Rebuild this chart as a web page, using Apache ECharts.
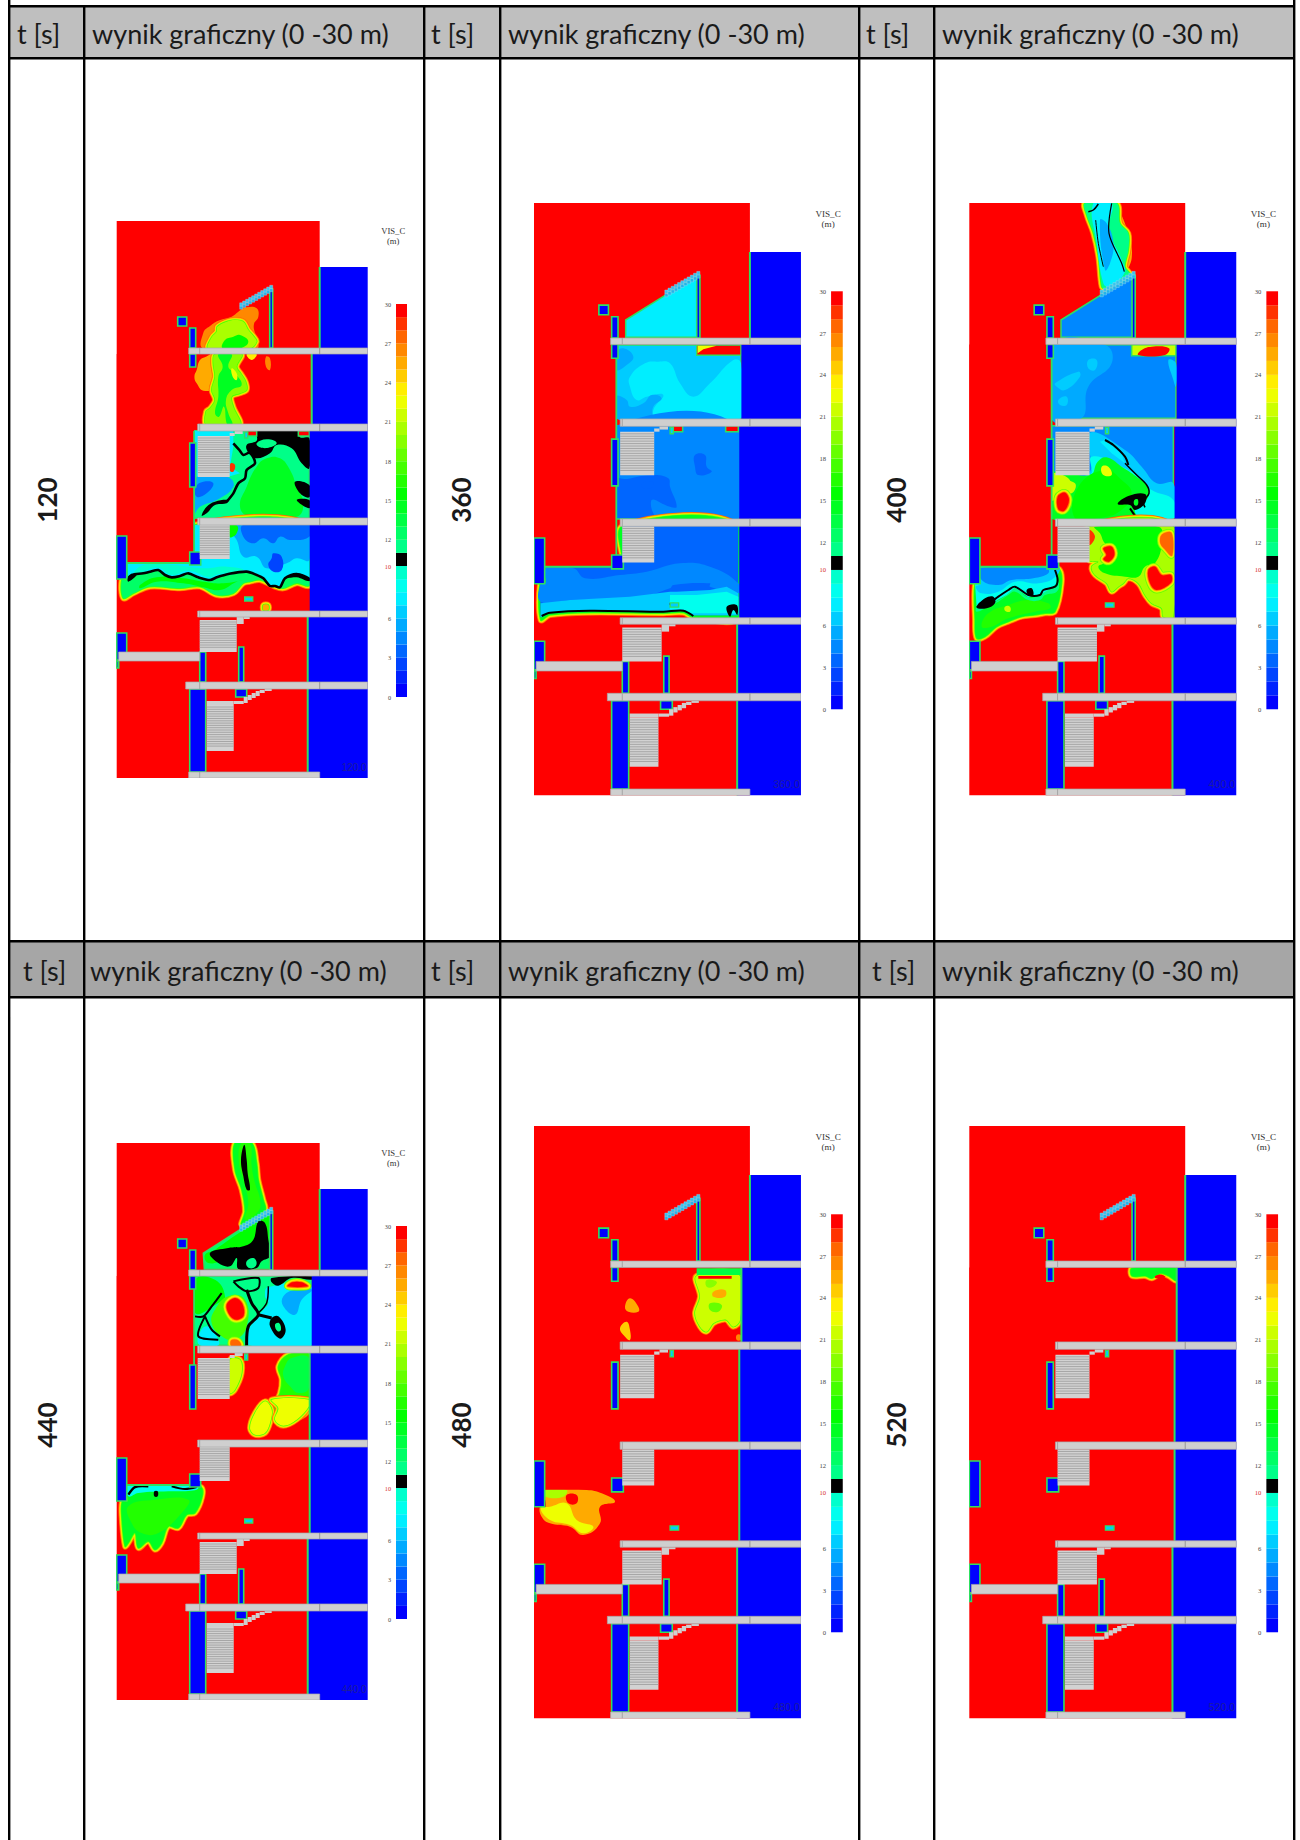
<!DOCTYPE html>
<html><head><meta charset="utf-8">
<style>html,body{margin:0;padding:0;background:#fff}#c{width:1300px;height:1840px}</style>
<script src="https://cdn.jsdelivr.net/npm/echarts@6/dist/echarts.min.js"></script>
</head><body><div id="c"></div>
<script>
// ---------- values ----------
const TIMES = [120, 360, 400, 440, 480, 520];
const STAMPS = ['120.0', '360.0', '400.0', '440.0', '480.0', '520.0'];
const HEAD_T = 't [s]';
const HEAD_W = 'wynik graficzny (0 -30 m)';
const BAR_TITLE = ['VIS_C', '(m)'];
const BAR_TICKS = [0, 3, 6, 10, 12, 15, 18, 21, 24, 27, 30];
const BAND_COLORS = ['#0000ff','#0022ff','#0044ff','#0066ff','#0088ff','#00aaff','#00ccff','#00eeff','#00ffee','#00ffcc',
 '#000000','#00ff88','#00ff66','#00ff44','#00ff22','#00ff00','#22ff00','#44ff00','#66ff00','#88ff00',
 '#aaff00','#ccff00','#eeff00','#ffee00','#ffcc00','#ffaa00','#ff8800','#ff6600','#ff3300','#ff0000'];

// building geometry in one shared model space (251 x 557)
const MODEL_W = 251, MODEL_H = 557;
const BUILDING = [0,0,203,0,203,557,0,557];
const OUTER_BLUE = [203,46,251,46,251,557,191,557,191,396,193,396,193,210,195,210,195,133,203,133];
const LEFT_SOLID = [0,133,77.4,133,77.4,331,73,331,73,342,10,342,10,315,0,315];
const WALLS = [[203,46,127],[195,133,203],[193,210,297],[193,304,390],[191,396,461],[191,468,557]];
const SLABS = [[72,127,251,133],[81,203,251,210],[81,297,251,304],[81,390,251,396],[69,461,251,468],[2,431,83,440],[72,551,203,557]];
const STAIRS = [[81,215,113,256],[83,304,113,338],[83,399,120,431],[90,484,117,530]];
const STEPS = [[113,212,118,215],[118,210,126,213],[120,396,127,403],[127,396,133,398],[90,480,117,484],[117,480,127,483],[127,476,131,482],[131,474,135,479],[135,472,139,477],[139,470,143,475],[143,469,148,472],[148,468,155,470]];
const BLOCKS = [[61,96,70,105],[73,107,79,127],[73,133,79,146],[73,222,79,266],[0,315,10,358],[73,331,84,344],[0,412,10,439],[0,440,2,447],[83,431,89,461],[122,426,127,461],[119,468,130,476],[73,468,89,551],[153,68,156,127]];
const SMALL_BOXES = [[128,376,136,380],[128,211,131,217]];

// measured smoke contours per time step: [kind, band, crop, [x,y, ...]]
const CROPS_120 = {A:[-16.7,-21], B:[-16.7,279]};
const SMOKE_120 = [
 ['F',26,'A',[310,398,330,378,355,362,395,350,415,335,440,322,470,325,475,350,462,372,465,400,473,420,470,445,310,445]],
 ['R',20,'A',[325,445,335,412,350,395,352,380,380,365,405,360,430,365,445,390,462,410,470,425,450,445]],
 ['F',15,'A',[368,445,375,420,400,410,420,405,445,425,420,445]],
 ['F',25,'A',[283,530,290,510,300,480,318,470,340,463,345,560,310,572,290,550]],
 ['F',26,'A',[498,470,510,475,510,510,498,500]],
 ['F',23,'A',[440,463,470,463,455,480]],
 ['R',19,'A',[345,463,425,463,410,500,422,520,437,545,440,570,420,580,395,590,400,620,420,675,320,675,318,635,330,625,345,600,335,570,345,530,340,490]],
 ['F',14,'A',[355,463,395,463,385,500,405,520,425,555,395,570,378,600,385,640,398,675,382,675,372,620,357,650,345,640,355,590,355,530,368,500]],
 ['F',22,'A',[395,505,410,520,410,540,398,530]],
 ['S',11,'A',[283,692,628,692,628,955,283,955]],
 ['P',7,'A',[283,692,400,692,400,740,390,800,420,820,385,830,330,815,283,860]],
 ['F',28,'A',[392,790,405,795,400,815,390,812]],
 ['F',5,'A',[283,850,300,826,385,832,400,860,350,900,300,920,283,940]],
 ['F',3,'A',[288,860,310,845,340,850,320,880,290,890]],
 ['F',14,'A',[440,860,470,800,500,775,540,775,570,810,590,860,610,910,590,950,450,950,420,920]],
 ['K',10,'A',[472,692,595,692,600,712,628,715,628,805,605,790,575,745,530,735,510,760,470,775,445,758,440,735,470,722]],
 ['F',11,'A',[470,730,500,718,530,728,510,742,480,742]],
 ['K',10,'A',[585,845,628,855,628,892,600,880]],
 ['L',2.6,'A',[400,730,418,750,430,765,450,758,465,790,440,810,435,835,415,850,400,880,380,905]],
 ['S',29,'A',[440,692,470,692,470,708,440,708]],
 ['S',29,'A',[595,692,628,692,628,708,595,708]],
 ['K',10,'B',[305,47,320,20,345,5,385,0,380,10,345,15,320,40]],
 ['K',10,'B',[590,0,628,25,628,0]],
 ['R',12,'B',[282,75,628,75,628,255,590,250,550,265,520,258,480,240,450,245,430,250,400,280,350,285,300,260,240,265,150,260,100,280,70,295,65,240,80,240,82,188,268,188,268,195,302,195,302,155,282,155]],
 ['F',15,'B',[120,265,170,245,250,250,310,262,360,270,410,245,430,240,370,250,310,245,250,235,170,232,120,255]],
 ['P',7,'B',[82,190,268,190,268,195,302,195,302,160,282,155,282,75,628,75,628,238,590,222,555,235,540,262,510,258,490,235,440,215,350,232,330,240,265,220,215,232,175,210,130,220,95,225,85,240]],
 ['F',9,'B',[100,222,130,215,175,203,215,225,265,212,330,232,350,224,430,210,380,200,310,205,220,195,130,195]],
 ['F',5,'B',[385,75,628,75,628,180,590,175,560,190,500,205,470,170,430,170,410,120,395,100]],
 ['F',3,'B',[430,75,628,75,628,110,570,120,540,110,520,130,490,115,460,130,430,110]],
 ['F',2,'B',[520,160,545,170,545,210,520,215,505,195,515,175]],
 ['L',2.6,'B',[85,240,95,225,130,220,150,215,175,210,195,225,215,232,240,228,265,220,295,232,330,240,350,232,385,222,440,215,470,225,490,235,510,258,525,258,540,262,555,235,590,222,628,240]],
 ['K',10,'B',[85,245,85,228,100,225,110,226]],
 ['K',10,'B',[555,235,590,220,628,232,628,244,590,232]],
 ['F',15,'B',[388,78,412,78,410,100,395,112,388,110]],
 ['R',25,'B',[490,315,505,315,505,330,490,330]]
];

const CROPS_360 = {C:[-4,117], D:[-4.3,-3]};
const SMOKE_360 = [
 ['S',7,'D',[288,412,288,360,400,290,505,225,505,412]],
 ['S',6,'C',[258,75,633,75,633,295,258,295]],
 ['F',7,'C',[300,170,345,130,385,125,420,130,450,190,490,230,540,190,610,120,633,130,633,295,380,295,370,270,400,225,350,230,320,240,300,200]],
 ['F',5,'C',[258,230,290,240,300,260,340,250,365,225,395,235,370,260,360,295,258,295]],
 ['F',5,'C',[258,100,280,85,310,110,290,135,258,150]],
 ['S',29,'C',[500,75,633,75,633,106,500,106]],
 ['P',22,'C',[503,100,520,88,560,77,503,77]],
 ['S',3,'C',[258,317,625,317,625,597,258,597]],
 ['F',4,'C',[258,317,625,317,625,597,390,597,365,540,420,560,440,560,420,500,415,475,370,465,258,465]],
 ['F',3,'C',[495,405,525,405,530,440,545,455,505,465,495,440]],
 ['F',3,'C',[335,490,365,485,370,500,340,505]],
 ['S',29,'C',[425,317,458,317,458,335,425,335]],
 ['S',29,'C',[587,317,625,317,625,335,587,335]],
 ['R',14,'C',[278,618,625,618,625,892,490,892,460,878,400,880,180,878,60,885,32,900,30,790,47,790,47,740,245,740,245,745,278,745]],
 ['P',3,'C',[278,618,625,618,625,886,490,886,460,872,400,875,180,872,60,878,32,892,30,790,47,790,47,740,245,740,245,745,278,745]],
 ['F',4,'C',[47,745,130,745,165,775,270,765,350,755,450,730,540,740,625,790,625,820,540,800,540,790,430,795,420,805,330,830,120,840,32,845,32,790,47,790]],
 ['P',6,'C',[32,850,120,840,300,830,420,815,440,815,540,810,590,800,625,820,625,886,490,886,460,872,400,875,180,872,60,878,32,892]],
 ['P',8,'C',[420,825,500,825,590,815,625,830,625,882,590,880,480,880,460,868,420,868]],
 ['F',1,'C',[418,850,442,850,440,856,420,856]],
 ['L',2,'C',[35,888,60,878,180,872,400,875,460,872,490,888]],
 ['K',10,'C',[590,860,620,855,622,885,610,870,600,890]]
];

const CROPS_400 = {D:[-4.3,-3], E:[-4.3,277]};
const SMOKE_400 = [
 ['F',25,'D',[455,20,490,100,500,175,480,210,470,100]],
 ['R',11,'D',[360,10,455,10,465,70,490,100,490,150,480,200,495,225,420,265,410,260,400,170,385,100,365,45]],
 ['F',7,'D',[385,10,440,10,432,90,470,180,478,220,430,260,415,250,395,130]],
 ['F',5,'D',[405,60,425,70,445,130,435,190,420,210]],
 ['L',1.5,'D',[370,35,385,30,400,12]],
 ['L',1.2,'D',[440,10,432,100,470,190,478,215]],
 ['L',1,'D',[392,60,400,130,415,200]],
 ['S',4,'D',[288,412,288,360,400,290,505,225,505,412]],
 ['S',4,'D',[258,434,633,434,633,655,258,655]],
 ['F',5,'D',[265,434,420,434,440,490,370,560,350,655,258,655]],
 ['F',6,'D',[270,550,340,515,345,530,300,570,275,560]],
 ['F',6,'D',[280,600,305,590,305,615,285,615]],
 ['F',6,'D',[370,480,395,480,390,510,370,505]],
 ['F',6,'D',[610,480,633,490,633,560,625,540]],
 ['S',21,'D',[500,434,633,434,633,467,500,467]],
 ['F',29,'D',[520,465,600,465,612,445,560,440,530,450]],
 ['S',4,'D',[258,677,625,677,625,955,258,955]],
 ['F',6,'D',[372,700,480,750,530,800,575,850,625,850,625,955,258,955,258,830,372,820]],
 ['F',8,'D',[380,770,470,800,520,830,560,870,625,900,625,955,258,955,258,830,375,825]],
 ['P',7,'D',[420,720,470,762,480,790,440,760,405,725]],
 ['F',14,'D',[258,822,375,825,398,785,425,772,470,800,515,830,545,855,552,880,540,905,510,930,515,955,258,955]],
 ['F',15,'D',[340,860,420,810,470,840,500,880,470,930,400,955,330,955]],
 ['F',21,'D',[258,825,300,828,320,860,290,885,258,900]],
 ['F',21,'E',[258,0,280,0,330,10,320,40,280,30,258,60]],
 ['H',29,'E',[278,50,300,38,312,60,298,92,280,88]],
 ['F',22,'D',[410,800,430,800,440,825,415,825]],
 ['L',2,'D',[420,720,445,735,480,770,490,795]],
 ['L',1.5,'D',[480,790,515,825,545,855,552,880,535,905,540,922]],
 ['K',10,'E',[458,72,490,48,540,42,540,70,510,90,495,75]],
 ['F',14,'E',[508,60,518,58,518,75,508,75]],
 ['L',2,'E',[495,85,515,115]],
 ['R',20,'E',[372,140,625,140,625,410,595,410,590,385,560,370,540,345,520,310,490,295,475,310,460,320,440,335,425,310,390,285,380,260,400,245,372,240]],
 ['F',15,'E',[390,140,580,140,590,190,570,250,540,260,520,290,480,290,420,280,400,260,420,250,440,240,450,210,420,190,405,160]],
 ['H',29,'E',[415,205,440,200,448,225,432,245,415,238,424,225]],
 ['H',29,'E',[550,270,570,260,590,285,618,285,618,308,575,330,555,310]],
 ['H',27,'E',[592,165,618,160,620,225,602,208,588,190]],
 ['F',28,'E',[372,150,390,170,372,195]],
 ['R',14,'E',[47,262,245,262,245,267,282,267,290,310,270,395,240,400,210,405,170,410,130,425,95,440,60,470,35,475,30,420,30,312,47,312]],
 ['F',16,'E',[50,440,70,400,130,375,190,360,250,370,255,385,210,395,130,415,80,440]],
 ['F',21,'E',[120,380,135,380,135,395,120,392]],
 ['F',11,'E',[35,395,70,380,100,365,130,345,150,335,190,360,225,360,240,345,275,335,282,310,272,290,230,340,190,352,150,322,125,345,80,370,35,382]],
 ['P',8,'E',[47,262,280,262,272,315,230,342,190,352,150,322,125,345,80,370,35,382,30,312,47,312]],
 ['F',6,'E',[47,262,280,262,272,290,220,310,150,305,100,335,50,340,32,320,47,312]],
 ['F',4,'E',[47,264,245,264,250,280,205,295,140,300,100,315,50,300]],
 ['L',2,'E',[35,382,70,370,100,350,130,330,150,320,190,345,225,345,235,330,270,320,278,300,270,270]],
 ['K',10,'E',[35,382,60,355,85,350,90,370,65,385]],
 ['K',10,'E',[185,330,200,325,205,345,190,345]]
];

const CROPS_440 = {F:[-1.7,-3.3], G:[-1.7,256.7]};
const SMOKE_440 = [
 ['R',14,'F',[360,10,410,10,425,70,430,120,445,180,450,212,380,255,390,215,380,150,360,90]],
 ['F',16,'F',[378,12,405,12,410,80,420,130,435,180,430,215,390,240,400,190,385,120,372,70]],
 ['K',10,'F',[378,60,388,15,395,60,398,100,405,150,395,150,385,110]],
 ['S',12,'F',[268,388,265,340,375,270,468,215,470,388]],
 ['F',15,'F',[280,370,330,360,400,340,440,340,470,280,465,230,380,275,300,330,270,345]],
 ['K',10,'F',[285,340,340,325,385,320,415,300,430,245,450,250,460,300,465,350,440,365,425,385,370,388,365,355,345,380,310,370]],
 ['F',11,'F',[395,365,415,355,425,370,415,385,398,382]],
 ['S',11,'F',[238,410,590,410,590,617,238,617]],
 ['F',7,'F',[460,442,590,442,590,617,400,617,395,585,420,540,445,510,460,490,450,470]],
 ['F',5,'F',[505,470,540,450,590,450,560,480,540,525,505,500]],
 ['F',15,'F',[240,420,300,420,330,470,310,490,240,520]],
 ['F',17,'F',[300,510,340,470,390,480,395,560,360,600,320,590,290,550]],
 ['H',29,'F',[335,495,360,475,382,492,386,528,365,540,345,528]],
 ['H',27,'F',[350,603,368,603,376,617,350,617]],
 ['F',7,'F',[250,590,275,560,305,590,310,617,255,617]],
 ['L',2,'F',[355,425,430,415,430,445,395,455,370,440,355,425]],
 ['L',3,'F',[395,450,410,490,430,525,400,560,395,617]],
 ['L',2,'F',[240,530,265,530,290,500,320,460]],
 ['L',2,'F',[270,530,250,590,310,600]],
 ['L',2,'F',[270,530,290,570,315,590]],
 ['L',1.5,'F',[460,440,455,490,430,520]],
 ['L',3,'F',[430,525,470,535]],
 ['K',10,'F',[470,535,490,530,512,570,495,597,465,560]],
 ['F',11,'F',[480,555,492,550,498,570,488,575]],
 ['K',10,'F',[470,415,590,410,590,420,530,415,490,438,470,428]],
 ['H',29,'F',[518,440,578,440,560,428,532,428]],
 ['R',21,'F',[345,660,375,660,380,700,360,750,345,760]],
 ['R',16,'F',[490,680,520,645,582,645,582,800,560,830,500,840,475,810,495,760,500,720]],
 ['F',13,'F',[510,680,530,655,582,655,582,745,550,760,525,740,505,710]],
 ['R',22,'G',[405,85,420,40,450,5,470,30,465,70,450,100,420,105]],
 ['R',22,'G',[470,0,582,0,582,20,545,60,505,78,480,60,490,25]],
 ['R',14,'G',[38,255,222,255,222,262,258,262,262,290,240,340,215,345,190,385,160,380,140,430,120,450,100,425,70,445,60,400,40,430,30,440,20,350,22,305,38,305]],
 ['F',16,'G',[40,320,120,300,220,300,200,340,130,400,80,400,50,370]],
 ['F',8,'G',[38,255,130,255,250,262,240,272,160,275,70,280,40,290]],
 ['L',2.5,'G',[40,285,60,262,100,260]],
 ['L',2,'G',[170,260,210,268,245,262]],
 ['K',10,'G',[118,275,128,275,128,290,118,290]]
];

const CROPS_480 = {H:[-4,114]};
const SMOKE_480 = [
 ['R',21,'H',[500,108,630,108,630,240,610,260,590,240,575,240,550,250,530,275,510,260,495,220,510,170]],
 ['P',13,'H',[500,85,633,85,633,105,500,105]],
 ['F',18,'H',[540,190,575,195,565,215,540,210]],
 ['F',19,'H',[530,120,560,125,550,140,530,140]],
 ['F',25,'H',[550,155,585,150,585,170,550,170]],
 ['P',29,'H',[505,108,605,108,605,116,505,116]],
 ['F',26,'H',[620,285,632,285,632,300,620,300]],
 ['F',25,'H',[285,200,300,175,325,200,325,215,295,215]],
 ['F',24,'H',[270,265,290,245,300,270,300,300,285,290]],
 ['F',25,'H',[30,800,47,800,47,748,170,750,215,760,255,785,210,800,210,850,160,885,120,860,60,850,35,830]],
 ['F',22,'H',[32,805,60,800,110,790,140,840,190,860,160,880,120,855,60,840]],
 ['F',20,'H',[47,750,110,750,100,770,47,770]],
 ['F',29,'H',[110,765,140,765,140,790,115,790]]
];

const CROPS_520 = {H:[-4,114]};
const SMOKE_520 = [
 ['R',14,'H',[500,85,633,85,633,122,610,108,585,100,560,115,540,108,500,108]],
 ['F',29,'H',[570,108,590,104,600,112,570,114]]
];

// layout of the scanned page
const PAGE_LINES = [9, 84, 424, 500, 859, 934, 1294];
const PANEL_POS = [[116.7,221,1],[534,203,1.0636],[969.3,203,1.0636],[116.7,1143,1],[534,1126,1.0636],[969.3,1126,1.0636]];
const SMOKE = [SMOKE_120,SMOKE_360,SMOKE_400,SMOKE_440,SMOKE_480,SMOKE_520];
const CROPS = [CROPS_120,CROPS_360,CROPS_400,CROPS_440,CROPS_480,CROPS_520];
const BARE_WALLS = [[0,1,4,5],[0,4,5],[0,4,5],[0,2,3,4,5],[0,1,2,3,4,5],[0,1,2,3,4,5]];
const ROOM_EDGES = [
 [[77.4,210,77.4,331],[10,342,73,342]],
 [[77.4,133,77.4,331],[10,342,73,342]],
 [[77.4,133,77.4,331],[10,342,73,342]],
 [[77.4,133,77.4,222],[10,342,73,342]],
 [],[]
];

// ---------- drawing ----------
const col = b => BAND_COLORS[Math.max(0, Math.min(29, b))];
const RIM = '#2fe060';
const RIM_STEPS = [[27,6],[25,4.8],[23,3.6],[20,2.4],[17,1.2]];
const HOT_STEPS = [[18,7],[21,5.4],[23,3.8],[25,2.4],[27,1.2]];
function pairs(a){ const o=[]; for(let i=0;i<a.length;i+=2)o.push([a[i],a[i+1]]); return o; }
function rectPts(r){ return [[r[0],r[1]],[r[2],r[1]],[r[2],r[3]],[r[0],r[3]]]; }

function panelLayers(p){
  const S = PANEL_POS[p][2], L = [];
  L.push({t:'poly',pts:pairs(BUILDING),fill:col(29)});
  SMOKE[p].forEach(function(s){
    const c = CROPS[p][s[2]];
    const pts = pairs(s[3]).map(q=>[(q[0]/3+c[0])/S,(q[1]/3+c[1])/S]);
    const k=s[0], b=s[1];
    if(k==='L'){ L.push({t:'line',pts,w:b,color:'#000'}); return; }
    if(k==='K'){ L.push({t:'poly',pts,fill:'#000',smooth:.4}); return; }
    if(k==='R'||k==='H'){
      (k==='R'?RIM_STEPS:HOT_STEPS).forEach(r=>L.push({t:'poly',pts,fill:col(r[0]),stroke:col(r[0]),w:r[1],smooth:.35}));
      L.push({t:'poly',pts,fill:col(b),smooth:.35});
      return;
    }
    if(k==='S'){ L.push({t:'poly',pts,fill:col(b),stroke:RIM,w:1.5}); return; }
    if(k==='P'){ L.push({t:'poly',pts,fill:col(b)}); return; }
    L.push({t:'poly',pts,fill:col(b),smooth:.45});
  });
  L.push({t:'poly',pts:pairs(LEFT_SOLID),fill:col(29)});
  ROOM_EDGES[p].forEach(function(e){
    L.push({t:'line',pts:[[e[0],e[1]],[e[2],e[3]]],w:1.8,color:RIM});
  });
  L.push({t:'poly',pts:pairs(OUTER_BLUE),fill:col(0)});
  BARE_WALLS[p].forEach(function(i){
    const w=WALLS[i];
    L.push({t:'line',pts:[[w[0],w[1]],[w[0],w[2]]],w:2,color:RIM});
  });
  BLOCKS.forEach(r=>L.push({t:'poly',pts:rectPts(r),fill:col(0),stroke:RIM,w:1.6}));
  SMALL_BOXES.forEach(r=>L.push({t:'poly',pts:rectPts(r),fill:col(6),stroke:RIM,w:1.4}));
  // window lattice
  for(let k=0;k<11;k++){
    const u=123+3*k, v=85-1.75*k;
    L.push({t:'poly',pts:rectPts([u,v,u+3,v+3.2]),fill:'#22b4ea',stroke:'#9fdcf0',w:.4});
    L.push({t:'poly',pts:rectPts([u,v-3.2,u+3,v]),fill:'#37c3ee',stroke:'#9fdcf0',w:.4});
  }
  STEPS.forEach(r=>L.push({t:'poly',pts:rectPts(r),fill:'#cfcfcf'}));
  STAIRS.forEach(function(r){
    L.push({t:'poly',pts:rectPts(r),fill:'#d2d2d2'});
    for(let y=r[1]+2;y<r[3]-4;y+=2.3) L.push({t:'line',pts:[[r[0],y],[r[2],y]],w:.8,color:'#9a9a9a'});
  });
  SLABS.forEach(function(r){
    L.push({t:'poly',pts:rectPts(r),fill:'#cfcfcf',stroke:'#a9a9a9',w:.7});
    if(r[2]>203) L.push({t:'line',pts:[[203,r[1]],[203,r[3]]],w:.9,color:'#8f8f8f'});
    if(r[0]<83 && r[2]>83) L.push({t:'line',pts:[[83,r[1]],[83,r[3]]],w:.9,color:'#a0a0a0'});
  });
  L.push({t:'text',at:[250,546],s:STAMPS[p],size:10*S});
  return L;
}

function render(layers){
  return function(params, api){
    const d = layers[params.dataIndex];
    if(d.t==='text'){
      const c = api.coord(d.at);
      return {type:'text',style:{text:d.s,x:c[0],y:c[1],align:'right',verticalAlign:'middle',fill:'#1c1ca0',font:d.size+'px "Liberation Sans"'}};
    }
    const pts = d.pts.map(q=>api.coord(q));
    if(d.t==='line'){
      return {type:'polyline',shape:{points:pts,smooth:pts.length>2?.3:0},style:{stroke:d.color,lineWidth:d.w,fill:null}};
    }
    return {type:'polygon',shape:{points:pts,smooth:d.smooth||0},style:{fill:d.fill,stroke:d.stroke||null,lineWidth:d.w||0}};
  };
}

const grids=[],xAxes=[],yAxes=[],series=[],graphic=[];
TIMES.forEach(function(_,p){
  const P=PANEL_POS[p], X=P[0], Y=P[1], S=P[2];
  const g=grids.length;
  grids.push({left:X,top:Y,width:MODEL_W*S,height:MODEL_H*S,containLabel:false});
  xAxes.push({gridIndex:g,type:'value',min:0,max:MODEL_W,show:false});
  yAxes.push({gridIndex:g,type:'value',min:0,max:MODEL_H,inverse:true,show:false});
  const layers=panelLayers(p);
  series.push({type:'custom',coordinateSystem:'cartesian2d',xAxisIndex:g,yAxisIndex:g,clip:true,silent:true,animation:false,
    data:layers.map((_,i)=>[i]),encode:{x:0,y:0},renderItem:render(layers)});
  // colour bar
  const h=grids.length;
  grids.push({left:X+279.3*S,top:Y+83*S,width:11*S,height:393*S,containLabel:false});
  xAxes.push({gridIndex:h,type:'value',min:0,max:1,show:false});
  yAxes.push({gridIndex:h,type:'value',min:0,max:30,
    axisLine:{show:false},axisTick:{show:false},splitLine:{show:false},
    axisLabel:{customValues:BAR_TICKS,margin:5,fontSize:6.2*S,fontFamily:'Liberation Serif',
      color:function(v){return +v===10?'#d62a2a':'#444';}}});
  series.push({type:'custom',coordinateSystem:'cartesian2d',xAxisIndex:h,yAxisIndex:h,silent:true,animation:false,
    data:BAND_COLORS.map((c,i)=>[i]),encode:{x:0,y:0},
    renderItem:function(params,api){
      const i=params.dataIndex, a=api.coord([0,i+1]), b=api.coord([1,i]);
      return {type:'rect',shape:{x:a[0],y:a[1],width:b[0]-a[0],height:b[1]-a[1]},style:{fill:BAND_COLORS[i]}};
    }});
  BAR_TITLE.forEach(function(t,k){
    graphic.push({type:'text',x:X+276.5*S,y:Y+(10+9.8*k)*S,style:{text:t,align:'center',verticalAlign:'middle',fill:'#333',font:(8.6*S)+'px "Liberation Serif"'}});
  });
});

// scanned table frame
function bar(x,y,w,h,c,z){ graphic.push({type:'rect',z:z||1,shape:{x,y,width:w,height:h},style:{fill:c}}); }
function txt(s,x,y,font,rot){ graphic.push({type:'text',z:5,x,y,rotation:rot||0,style:{text:s,align:rot?'center':'left',verticalAlign:'middle',fill:'#1a1a1a',font}}); }
const HDR='27px "Lato"', LBL='bold 26px "Lato"';
bar(9,6,1285,53,'#bfbfbf'); bar(9,941,1285,56,'#a6a6a6');
[6,58].forEach(y=>bar(8,y-1,1287,2.4,'#000',3));
[941,997].forEach(y=>bar(8,y-1,1287,2.4,'#000',3));
PAGE_LINES.forEach(function(x,i){ const top=(i===0||i===PAGE_LINES.length-1)?0:6; bar(x-1,top,2.4,1840-top,'#000',3); });
[[17,431,866,92,508,942,33],[23,431,872,90,508,942,970]].forEach(function(r){
  [0,1,2].forEach(function(i){ txt(HEAD_T,r[i],r[6],HDR); txt(HEAD_W,r[3+i],r[6],HDR); });
});
[[47,500],[461,500],[896,500],[47,1425],[461,1425],[896,1425]].forEach(function(q,i){ txt(String(TIMES[i]),q[0],q[1],LBL,Math.PI/2); });

const chart=echarts.init(document.getElementById('c'),null,{renderer:'svg',width:1300,height:1840});
chart.setOption({animation:false,backgroundColor:'#fff',grid:grids,xAxis:xAxes,yAxis:yAxes,series:series,graphic:{elements:graphic}});
</script></body></html>
